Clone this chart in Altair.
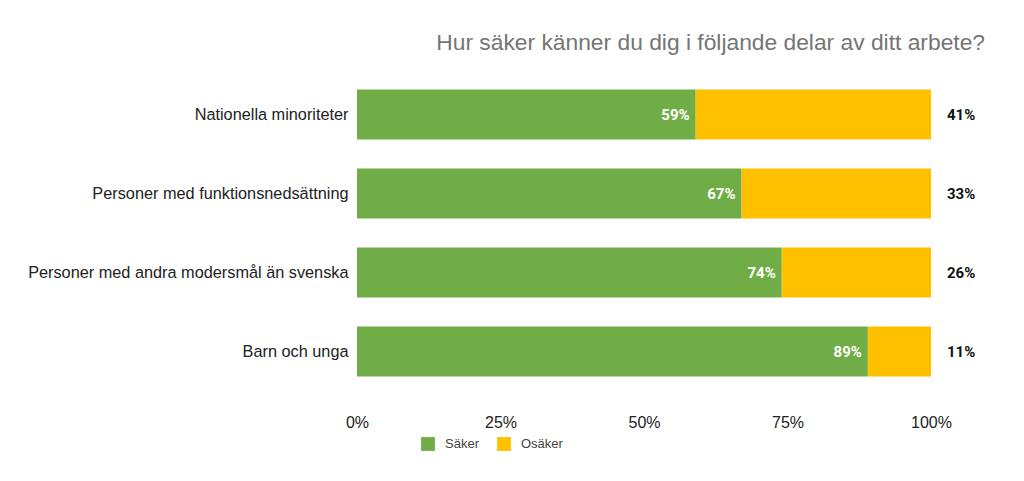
import altair as alt
import pandas as pd

# Survey answers per area of work (percent)
categories = [
    "Nationella minoriteter",
    "Personer med funktionsnedsättning",
    "Personer med andra modersmål än svenska",
    "Barn och unga",
]
saker = [59, 67, 74, 89]
osaker = [41, 33, 26, 11]
answers = ["Säker", "Osäker"]
colors = ["#70AD47", "#FFC000"]

rows = []
for cat, s, o in zip(categories, saker, osaker):
    rows.append({"Område": cat, "Svar": "Säker", "ordning": 0, "Andel": s / 100})
    rows.append({"Område": cat, "Svar": "Osäker", "ordning": 1, "Andel": o / 100})
df = pd.DataFrame(rows)

W, H = 574, 316

y_enc = alt.Y(
    "Område:N",
    sort=categories,
    title=None,
    scale=alt.Scale(paddingInner=0.367, paddingOuter=0.1835),
    axis=alt.Axis(
        domain=False, ticks=False, labelPadding=9, labelFontSize=16.3,
        labelFont="Liberation Sans", labelColor="#222222", labelLimit=400,
    ),
)

bars = alt.Chart(df).mark_bar().encode(
    x=alt.X(
        "Andel:Q",
        stack="zero",
        title=None,
        scale=alt.Scale(domain=[0, 1], nice=False),
        axis=alt.Axis(
            format=".0%", values=[0, 0.25, 0.5, 0.75, 1], grid=False,
            domain=False, ticks=False, labelFlush=False, labelPadding=23,
            labelFontSize=16, labelFont="Liberation Sans", labelColor="#222222",
        ),
    ),
    y=y_enc,
    color=alt.Color(
        "Svar:N",
        sort=answers,
        scale=alt.Scale(domain=answers, range=colors),
        legend=alt.Legend(
            title=None, orient="none", direction="horizontal",
            legendX=64, legendY=362, symbolType="square", symbolSize=190,
            symbolStrokeWidth=0, labelFontSize=13, labelFont="Liberation Sans",
            labelColor="#444444", columnPadding=18, labelOffset=10,
        ),
    ),
    order=alt.Order("ordning:Q"),
)

sak_df = pd.DataFrame({"Område": categories, "Säker": [v / 100 for v in saker]})
osak_df = pd.DataFrame({"Område": categories, "Osäker": [v / 100 for v in osaker]})

inner_labels = alt.Chart(sak_df).mark_text(
    align="right", dx=-6, color="white", fontWeight="bold", fontSize=15,
    font="Roboto", baseline="middle",
).encode(
    x="Säker:Q",
    y=alt.Y("Område:N", sort=categories),
    text=alt.Text("Säker:Q", format=".0%"),
)

outer_labels = alt.Chart(osak_df).mark_text(
    align="left", color="#111111", fontWeight="bold", fontSize=15,
    font="Roboto", baseline="middle",
).encode(
    x=alt.value(W + 16),
    y=alt.Y("Område:N", sort=categories),
    text=alt.Text("Osäker:Q", format=".0%"),
)

chart = alt.layer(bars, inner_labels, outer_labels).properties(
    width=W,
    height=H,
    background="white",
    title=alt.TitleParams(
        "Hur säker känner du dig i följande delar av ditt arbete?",
        anchor="end", frame="group", fontSize=22.8, fontWeight="normal",
        font="Liberation Sans", color="#757575", offset=20, dx=54,
    ),
    autosize=alt.AutoSizeParams(type="none"),
    padding={"left": 357, "top": 75, "right": 93, "bottom": 90},
).configure_view(stroke=None)

chart.save("out.html", embed_options={"renderer": "svg", "actions": False})
